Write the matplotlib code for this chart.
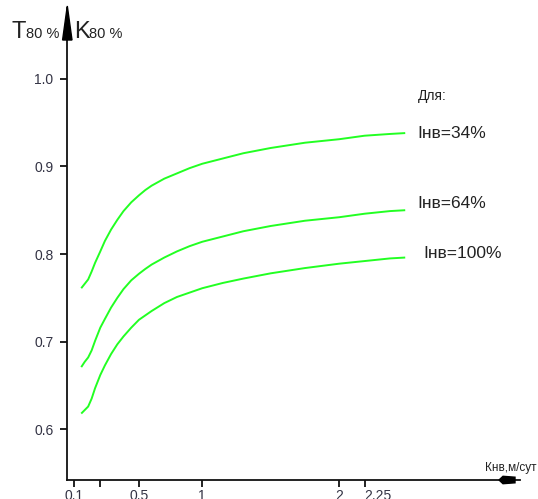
import numpy as np
import matplotlib
matplotlib.use("Agg")
import matplotlib.pyplot as plt
from matplotlib.patches import Polygon

plt.rcParams['font.family'] = ['Liberation Sans', 'DejaVu Sans']

# ---- data ----
k_values = [0.14, 0.16, 0.18, 0.2, 0.22, 0.25, 0.28, 0.32, 0.36, 0.4, 0.45, 0.5, 0.55, 0.6,
            0.7, 0.8, 0.9, 1.0, 1.15, 1.3, 1.5, 1.75, 2.0, 2.25, 2.5, 2.65]
curve_34 = [0.761, 0.766, 0.771, 0.780, 0.790, 0.803, 0.815, 0.828, 0.839, 0.849, 0.859, 0.867, 0.873,
            0.878, 0.886, 0.892, 0.898, 0.903, 0.909, 0.915, 0.921, 0.927, 0.931, 0.935, 0.937, 0.938]
curve_64 = [0.671, 0.677, 0.682, 0.690, 0.701, 0.716, 0.726, 0.739, 0.750, 0.760, 0.770, 0.7775, 0.783,
            0.788, 0.796, 0.803, 0.809, 0.814, 0.820, 0.826, 0.832, 0.838, 0.842, 0.846, 0.849, 0.850]
curve_100 = [0.618, 0.622, 0.626, 0.635, 0.647, 0.662, 0.673, 0.686, 0.697, 0.706, 0.716, 0.725, 0.730,
             0.735, 0.744, 0.751, 0.756, 0.761, 0.767, 0.772, 0.778, 0.784, 0.789, 0.792, 0.795, 0.796]
series_labels = ['Iнв=34%', 'Iнв=64%', 'Iнв=100%']

x_ticks = [0.1, 0.25, 0.5, 1, 2, 2.25]
x_tick_labels = ['0.1', '', '0.5', '1', '2', '2.25']
y_ticks = [0.6, 0.7, 0.8, 0.9, 1.0]
y_tick_labels = ['0.6', '0.7', '0.8', '0.9', '1.0']

# ---- schematic (non-uniform) x scale of the original drawing ----
_k_anchor = np.array([0.0, 0.1, 0.25, 0.5, 1.0, 2.0, 2.25, 4.0])
_u_anchor = np.array([0.0, 7.6, 33.6, 72.3, 135.6, 272.6, 298.0, 475.8])

def _fwd(x):
    x = np.asarray(x, dtype=float)
    y = np.interp(x, _k_anchor, _u_anchor)
    s0 = (_u_anchor[1] - _u_anchor[0]) / (_k_anchor[1] - _k_anchor[0])
    s1 = (_u_anchor[-1] - _u_anchor[-2]) / (_k_anchor[-1] - _k_anchor[-2])
    y = np.where(x < _k_anchor[0], _u_anchor[0] + (x - _k_anchor[0]) * s0, y)
    y = np.where(x > _k_anchor[-1], _u_anchor[-1] + (x - _k_anchor[-1]) * s1, y)
    return y

def _inv(u):
    u = np.asarray(u, dtype=float)
    x = np.interp(u, _u_anchor, _k_anchor)
    s0 = (_k_anchor[1] - _k_anchor[0]) / (_u_anchor[1] - _u_anchor[0])
    s1 = (_k_anchor[-1] - _k_anchor[-2]) / (_u_anchor[-1] - _u_anchor[-2])
    x = np.where(u < _u_anchor[0], _k_anchor[0] + (u - _u_anchor[0]) * s0, x)
    x = np.where(u > _u_anchor[-1], _k_anchor[-1] + (u - _u_anchor[-1]) * s1, x)
    return x

W, H = 538, 499
fig = plt.figure(figsize=(W / 100, H / 100), dpi=100)

def fx(px):
    return px / W

def fy(py):
    return 1 - py / H

ax_left, ax_right, ax_top, ax_bottom = 66.7, 520, 8, 480
ax = fig.add_axes([fx(ax_left), fy(ax_bottom), (ax_right - ax_left) / W, (ax_bottom - ax_top) / H])
ax.set_xscale('function', functions=(_fwd, _inv))
ax.set_xlim(0, 3.78)
ax.set_ylim(0.5422, 1.0807)

green = '#22ff22'
for vals in (curve_34, curve_64, curve_100):
    ax.plot(k_values, vals, color=green, lw=1.4, solid_capstyle='butt', solid_joinstyle='round')

for s in ('top', 'right'):
    ax.spines[s].set_visible(False)
for s in ('left', 'bottom'):
    ax.spines[s].set_linewidth(1.3)
    ax.spines[s].set_color('#111111')

ax.set_xticks(x_ticks)
ax.set_xticklabels(x_tick_labels)
ax.xaxis.set_minor_locator(matplotlib.ticker.NullLocator())
ax.set_yticks(y_ticks)
ax.set_yticklabels(y_tick_labels)
ax.tick_params(axis='x', direction='out', length=5, width=1.3, pad=1.5, labelsize=10,
               colors='#111111', labelcolor='#333344')
ax.tick_params(axis='y', direction='out', length=4.8, width=1.3, pad=4.8, labelsize=10,
               colors='#111111', labelcolor='#333344')
lbls = ax.get_xticklabels()
lbls[-1].set_horizontalalignment('left')
ax.patch.set_alpha(0)

# arrowheads of the schematic axes
fig.patches.append(Polygon([(fx(67.3), fy(6)), (fx(62.6), fy(40)), (fx(72.0), fy(40))],
                           closed=True, transform=fig.transFigure, color='black'))
fig.patches.append(Polygon([(fx(499), fy(480)), (fx(503), fy(476.3)), (fx(515), fy(477.2)),
                            (fx(515), fy(482.8)), (fx(503), fy(483.7))],
                           closed=True, transform=fig.transFigure, color='black'))

txt = '#222222'
# axis titles
fig.text(fx(12), fy(38), 'T', fontsize=17, color=txt, ha='left', va='baseline')
fig.text(fx(26), fy(38), '80 %', fontsize=10.5, color=txt, ha='left', va='baseline')
fig.text(fx(74), fy(38), 'K', fontsize=17, color=txt, ha='left', va='baseline')
fig.text(fx(89), fy(38), '80 %', fontsize=10.5, color=txt, ha='left', va='baseline')
fig.text(fx(485), fy(467.5), 'Кнв,м/сут', fontsize=8.5, color=txt, ha='left', va='center')

# curve labels
fig.text(fx(418), fy(96), 'Для:', fontsize=10, color=txt, ha='left', va='center')
label_pos = [(417.7, 133.5), (417.7, 203), (423.3, 253.5)]
for (px, py), lab in zip(label_pos, series_labels):
    fig.text(fx(px), fy(py), lab, fontsize=12.5, color=txt, ha='left', va='center')

fig.savefig('out.png', dpi=100)
